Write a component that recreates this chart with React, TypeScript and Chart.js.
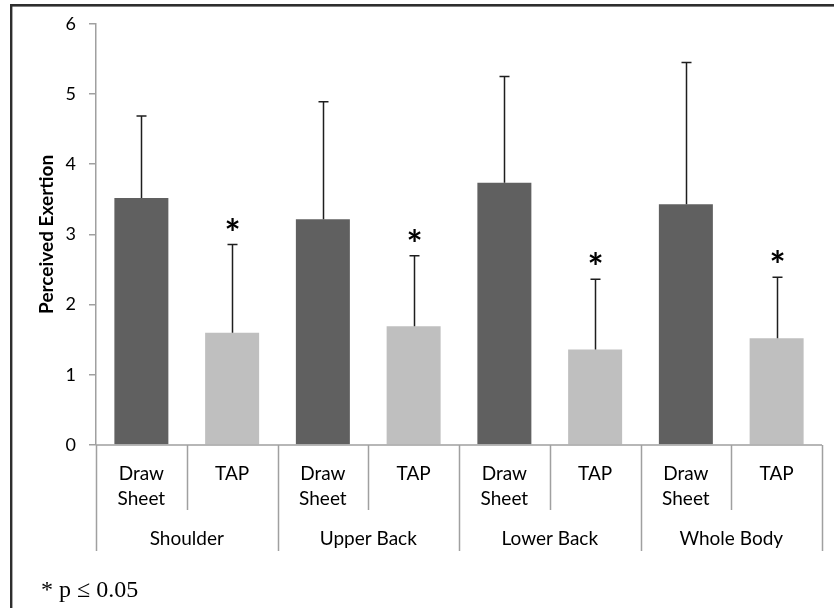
import React, { useEffect, useRef } from "react";
import { Chart, registerables } from "chart.js";
Chart.register(...registerables);

const groups = ["Shoulder", "Upper Back", "Lower Back", "Whole Body"];
const conditions = [["Draw", "Sheet"], ["TAP"]];
const drawSheetMeans = [3.52, 3.215, 3.735, 3.43];
const drawSheetSD = [1.165, 1.675, 1.515, 2.02];
const tapMeans = [1.6, 1.69, 1.36, 1.52];
const tapSD = [1.255, 1.005, 1.0, 0.87];
const tapSignificant = [true, true, true, true];
const yMin = 0;
const yMax = 6;
const yStep = 1;
const yTitle = "Perceived Exertion";
const footnote = "* p \u2264 0.05";

const DARK = "#606060";
const LIGHT = "#bfbfbf";
const AXIS = "#a0a0a0";
const FONT = "Lato";

export default function App() {
  const ref = useRef<HTMLCanvasElement | null>(null);

  useEffect(() => {
    document.body.style.margin = "0";
    const canvas = ref.current;
    if (!canvas) return;

    const labels: string[][] = [];
    const values: number[] = [];
    const sds: number[] = [];
    const colors: string[] = [];
    const sig: boolean[] = [];
    groups.forEach((g, gi) => {
      labels.push(conditions[0]);
      values.push(drawSheetMeans[gi]);
      sds.push(drawSheetSD[gi]);
      colors.push(DARK);
      sig.push(false);
      labels.push(conditions[1]);
      values.push(tapMeans[gi]);
      sds.push(tapSD[gi]);
      colors.push(LIGHT);
      sig.push(tapSignificant[gi]);
    });

    const plugin = {
      id: "decor",
      beforeDraw(chart: any) {
        const ctx = chart.ctx;
        ctx.save();
        ctx.fillStyle = "#fff";
        ctx.fillRect(0, 0, chart.width, chart.height);
        ctx.fillStyle = "#2e2e2e";
        ctx.fillRect(10, 4, chart.width - 10, 2.6);
        ctx.fillRect(10, 4, 2.4, chart.height - 4);
        ctx.restore();
      },
      afterDatasetsDraw(chart: any) {
        const ctx = chart.ctx;
        const meta = chart.getDatasetMeta(0);
        const ys = chart.scales.y;
        ctx.save();
        ctx.strokeStyle = "#1e1e1e";
        ctx.lineWidth = 1.5;
        ctx.fillStyle = "#000";
        ctx.font = `bold 38px ${FONT}`;
        ctx.textAlign = "center";
        ctx.textBaseline = "alphabetic";
        values.forEach((v, i) => {
          const el = meta.data[i];
          const x = Math.round(el.x) + 0.5;
          const yb = ys.getPixelForValue(v);
          const yt = ys.getPixelForValue(v + sds[i]);
          ctx.beginPath();
          ctx.moveTo(x, yb);
          ctx.lineTo(x, yt);
          ctx.moveTo(x - 5, yt);
          ctx.lineTo(x + 5, yt);
          ctx.stroke();
          if (sig[i]) {
            ctx.fillText("*", x, yt + 2);
          }
        });
        ctx.restore();
      },
      afterDraw(chart: any) {
        const ctx = chart.ctx;
        const xs = chart.scales.x;
        const area = chart.chartArea;
        const b = area.bottom;
        ctx.save();
        ctx.strokeStyle = AXIS;
        ctx.lineWidth = 1.5;
        ctx.beginPath();
        ctx.moveTo(area.left, b);
        ctx.lineTo(area.right, b);
        const n = labels.length;
        for (let i = 0; i <= n; i++) {
          const x = Math.round(xs.getPixelForValue(i - 0.5)) + 0.5;
          ctx.moveTo(x, b);
          ctx.lineTo(x, i % 2 === 0 ? b + 106 : b + 65);
        }
        ctx.stroke();

        ctx.fillStyle = "#000";
        ctx.font = `19px ${FONT}`;
        ctx.textAlign = "center";
        ctx.textBaseline = "alphabetic";
        labels.forEach((lines, i) => {
          const x = xs.getPixelForValue(i);
          lines.forEach((t, li) => ctx.fillText(t, x, b + 35 + li * 25));
        });
        groups.forEach((g, gi) => {
          const x = (xs.getPixelForValue(gi * 2) + xs.getPixelForValue(gi * 2 + 1)) / 2;
          ctx.fillText(g, x, b + 100);
        });

        ctx.textAlign = "left";
        ctx.font = `24px "Liberation Serif"`;
        ctx.fillText(footnote, 41, 597);
        ctx.restore();
      },
    };

    const chart = new Chart(canvas, {
      type: "bar",
      data: {
        labels: labels as any,
        datasets: [
          {
            data: values,
            backgroundColor: colors,
            borderWidth: 0,
            barPercentage: 0.595,
            categoryPercentage: 1,
          },
        ],
      },
      options: {
        animation: false,
        responsive: false,
        devicePixelRatio: 1,
        layout: { padding: { left: 11, right: 12, top: 22, bottom: 0 } },
        plugins: { legend: { display: false }, tooltip: { enabled: false } },
        scales: {
          x: {
            type: "category",
            ticks: { display: false },
            grid: { display: false },
            border: { display: false },
            afterFit: (s: any) => {
              s.height = 163;
            },
          },
          y: {
            min: yMin,
            max: yMax,
            ticks: {
              stepSize: yStep,
              padding: 13,
              color: "#000",
              font: { family: FONT, size: 18 },
            },
            grid: {
              drawOnChartArea: false,
              drawTicks: true,
              tickLength: 7,
              color: AXIS,
              lineWidth: 1.5,
            },
            border: { display: true, color: AXIS, width: 1.5 },
            title: {
              display: true,
              text: yTitle,
              color: "#000",
              font: { family: FONT, size: 19, weight: "bold" },
              padding: { top: 24, bottom: 0 },
            },
            afterFit: (s: any) => {
              s.width = 85;
            },
          },
        },
      },
      plugins: [plugin],
    });
    return () => chart.destroy();
  }, []);

  return (
    <div style={{ width: 834, height: 608 }}>
      <canvas ref={ref} width={834} height={608} style={{ display: "block" }} />
    </div>
  );
}
